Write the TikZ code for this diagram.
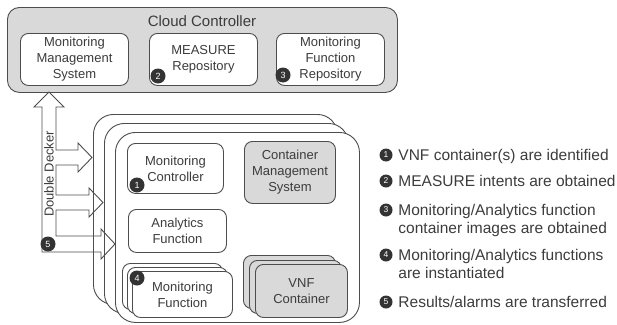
\documentclass[tikz,border=0pt]{standalone}
\usepackage{fontspec}
\setmainfont{Liberation Sans}
\definecolor{linec}{HTML}{4D4D4D}
\definecolor{txt}{HTML}{3C3C3C}
\definecolor{grayfill}{HTML}{D9D9D9}
\definecolor{badgec}{HTML}{333333}
\begin{document}
\begin{tikzpicture}[x=1pt,y=-1pt,line width=0.9pt,
  box/.style={draw=linec, fill=white, rounded corners=8pt, anchor=north west, align=center,
    inner sep=0pt, text=txt, font=\fontsize{13}{16}\selectfont},
  graybox/.style={box, fill=grayfill},
  bigbox/.style={draw=linec, fill=white, rounded corners=20pt, anchor=north west, inner sep=0pt,
    minimum width=244pt, minimum height=190pt},
  badge/.style={circle, fill=badgec, text=white, inner sep=0pt, minimum size=15pt,
    font=\fontsize{9}{9}\selectfont},
  lbadge/.style={badge, minimum size=13pt, font=\fontsize{8.5}{8.5}\selectfont},
  legend/.style={anchor=base west, inner sep=0pt, text=txt, font=\fontsize{15.5}{18}\selectfont},
  plain/.style={text=txt, inner sep=0pt, font=\fontsize{13}{16}\selectfont}]
\useasboundingbox (0,0) rectangle (617,324);

% Cloud controller
\node[graybox, rounded corners=12pt, minimum width=390pt, minimum height=85pt] (cc) at (7,7) {};
\node[plain, font=\fontsize{15}{18}\selectfont] (cctitle) at (202,21) {Cloud Controller};
\node[box, minimum width=108pt, minimum height=52pt] (mms) at (20,33) {Monitoring\\Management\\System};
\node[box, minimum width=108pt, minimum height=52pt] (mr) at (149,33) {MEASURE\\Repository};
\node[box, minimum width=108pt, minimum height=52pt] (mfr) at (276,33) {Monitoring\\Function\\Repository};
\node[badge] (b2) at (158,76) {2};
\node[badge] (b3) at (283,75) {3};

% stacked hosts
\node[bigbox] (h1) at (93,114) {};
\node[bigbox] (h2) at (104,123) {};
\node[bigbox] (h3) at (115,132) {};

\node[box, minimum width=96pt, minimum height=50pt] (mc) at (127,143) {Monitoring\\Controller};
\node[graybox, minimum width=91pt, minimum height=62pt] (cms) at (244,141) {Container\\Management\\System};
\node[box, minimum width=98pt, minimum height=43pt] (af) at (128,209) {Analytics\\Function};

\node[box, minimum width=100pt, minimum height=46pt] (mf1) at (122,263) {};
\node[box, minimum width=100pt, minimum height=46pt] (mf2) at (127,267) {};
\node[box, minimum width=100pt, minimum height=46pt] (mf3) at (132,271) {Monitoring\\Function};

\node[graybox, minimum width=92pt, minimum height=53pt] (vnf1) at (243,255) {};
\node[graybox, minimum width=92pt, minimum height=53pt] (vnf2) at (249,260) {};
\node[graybox, minimum width=92pt, minimum height=53pt] (vnf3) at (255,264) {VNF\\Container};

\node[badge] (b1) at (137,185) {1};
\node[badge] (b4) at (137,278) {4};

% Double Decker arrow
\draw[linec, line join=miter] (49,92) -- (64,107) -- (56,107) -- (56,150) -- (78,150) -- (78,143)
  -- (92,157.5) -- (78,172) -- (78,165) -- (56,165) -- (56,195) -- (89,195) -- (89,188)
  -- (103,202.5) -- (89,217) -- (89,210) -- (56,210) -- (56,236) -- (101,236) -- (101,229)
  -- (115,244) -- (101,259) -- (101,252) -- (42,252) -- (42,107) -- (34,107) -- cycle;
\node[plain, rotate=90] (dd) at (49,174) {Double Decker};
\node[badge] (b5) at (48,244) {5};

% legend
\node[lbadge] (l1) at (386,155) {1};
\node[legend] (t1) at (398,160.5) {VNF container(s) are identified};
\node[lbadge] (l2) at (386,181) {2};
\node[legend] (t2) at (398,186.5) {MEASURE intents are obtained};
\node[lbadge] (l3) at (386,210) {3};
\node[legend] (t3a) at (398,215.5) {Monitoring/Analytics function};
\node[legend] (t3b) at (398,233.5) {container images are obtained};
\node[lbadge] (l4) at (386,255) {4};
\node[legend] (t4a) at (398,260.5) {Monitoring/Analytics functions};
\node[legend] (t4b) at (398,278.5) {are instantiated};
\node[lbadge] (l5) at (386,302) {5};
\node[legend] (t5) at (398,307.5) {Results/alarms are transferred};
\end{tikzpicture}
\end{document}
